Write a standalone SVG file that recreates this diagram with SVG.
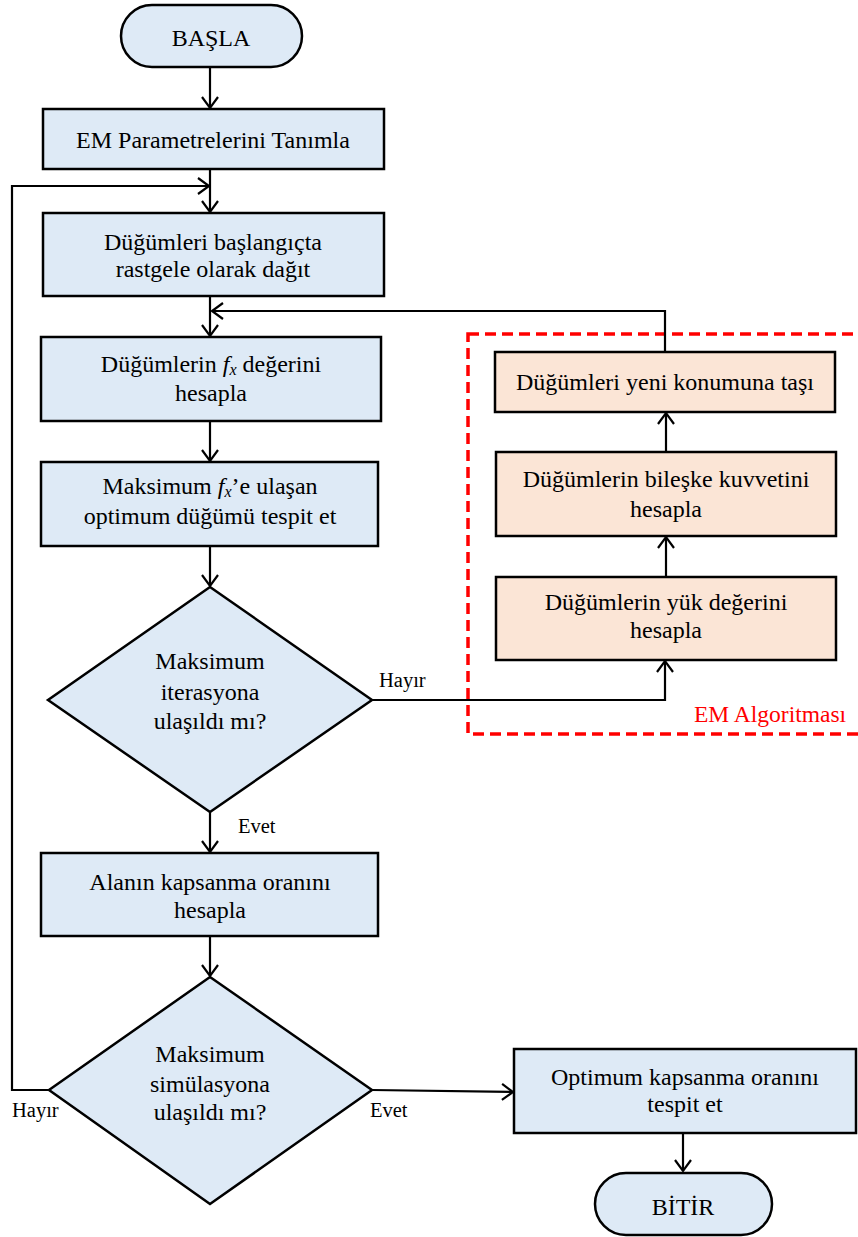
<svg xmlns="http://www.w3.org/2000/svg" width="858" height="1237" viewBox="0 0 858 1237">
<style>
.b{fill:#DEEAF6;stroke:#000;stroke-width:2.5}
.o{fill:#FBE5D6;stroke:#000;stroke-width:2.5}
.t{font-family:"Liberation Serif","Times New Roman",serif;font-size:24px;fill:#000;text-anchor:middle}
.l{font-family:"Liberation Serif","Times New Roman",serif;font-size:20.5px;fill:#000}
.c{fill:none;stroke:#000;stroke-width:2.2}
.i{font-style:italic}
</style>
<defs>
<marker id="a" viewBox="-13 -10 15 20" refX="0" refY="0" markerWidth="15" markerHeight="20" orient="auto" markerUnits="userSpaceOnUse">
<path d="M-11,-8 L0,0 L-11,8" fill="none" stroke="#000" stroke-width="2.2"/>
</marker>
</defs>
<rect x="468" y="334" width="420" height="400" fill="none" stroke="#FF0000" stroke-width="3.5" stroke-dasharray="11 6"/>
<text x="694" y="722" font-family="'Liberation Serif','Times New Roman',serif" font-size="23.5" fill="#FF0000">EM Algoritması</text>
<g id="connectors">
<path class="c" d="M210,68 V108" marker-end="url(#a)"/>
<path class="c" d="M210,169 V212" marker-end="url(#a)"/>
<path class="c" d="M49,1090 H12 V186 H209" marker-end="url(#a)"/>
<path class="c" d="M210,296 V336" marker-end="url(#a)"/>
<path class="c" d="M665,352 V311 H212" marker-end="url(#a)"/>
<path class="c" d="M210,421 V461" marker-end="url(#a)"/>
<path class="c" d="M210,546 V586" marker-end="url(#a)"/>
<path class="c" d="M210,812 V852" marker-end="url(#a)"/>
<path class="c" d="M372,700 H665 V661" marker-end="url(#a)"/>
<path class="c" d="M666,577 V537" marker-end="url(#a)"/>
<path class="c" d="M666,452 V413" marker-end="url(#a)"/>
<path class="c" d="M210,936 V976" marker-end="url(#a)"/>
<path class="c" d="M372,1090 L513,1092" marker-end="url(#a)"/>
<path class="c" d="M683,1133 V1171" marker-end="url(#a)"/>
</g>
<g id="basla">
<rect class="b" x="121" y="5" width="181" height="62" rx="31" ry="31"/>
<text class="t" x="211" y="46">BAŞLA</text>
</g>
<g id="em-param">
<rect class="b" x="43" y="109" width="341" height="60"/>
<text class="t" x="213" y="148">EM Parametrelerini Tanımla</text>
</g>
<g id="dagit">
<rect class="b" x="43" y="213" width="341" height="83"/>
<text class="t" x="213" y="250">Düğümleri başlangıçta</text>
<text class="t" x="213" y="277">rastgele olarak dağıt</text>
</g>
<g id="fx">
<rect class="b" x="41" y="337" width="340" height="84"/>
<text class="t" x="211" y="372">Düğümlerin <tspan class="i">f</tspan><tspan class="i" font-size="16" dy="3">x</tspan><tspan dy="-3"> değerini</tspan></text>
<text class="t" x="211" y="401">hesapla</text>
</g>
<g id="optimum-dugum">
<rect class="b" x="41" y="462" width="337" height="84"/>
<text class="t" x="210" y="494">Maksimum <tspan class="i">f</tspan><tspan class="i" font-size="16" dy="3">x</tspan><tspan dy="-3">’e ulaşan</tspan></text>
<text class="t" x="210" y="524">optimum düğümü tespit et</text>
</g>
<g id="iterasyon">
<polygon class="b" points="210,587 372,700 210,812 48,700"/>
<text class="t" x="210" y="669">Maksimum</text>
<text class="t" x="210" y="700">iterasyona</text>
<text class="t" x="210" y="729">ulaşıldı mı?</text>
</g>
<text class="l" x="379" y="687">Hayır</text>
<text class="l" x="238" y="833">Evet</text>
<g id="kapsanma">
<rect class="b" x="41" y="853" width="337" height="83"/>
<text class="t" x="210" y="890">Alanın kapsanma oranını</text>
<text class="t" x="210" y="918">hesapla</text>
</g>
<g id="simulasyon">
<polygon class="b" points="210,977 372,1090 210,1204 49,1090"/>
<text class="t" x="210" y="1062">Maksimum</text>
<text class="t" x="210" y="1092">simülasyona</text>
<text class="t" x="210" y="1120">ulaşıldı mı?</text>
</g>
<text class="l" x="12" y="1117">Hayır</text>
<text class="l" x="370" y="1117">Evet</text>
<g id="optimum-kapsanma">
<rect class="b" x="514" y="1049" width="342" height="84"/>
<text class="t" x="685" y="1085">Optimum kapsanma oranını</text>
<text class="t" x="685" y="1112">tespit et</text>
</g>
<g id="bitir">
<rect class="b" x="595" y="1173" width="177" height="62" rx="31" ry="31"/>
<text class="t" x="683" y="1215">BİTİR</text>
</g>
<g id="tasi">
<rect class="o" x="495" y="352" width="340" height="60"/>
<text class="t" x="665" y="390">Düğümleri yeni konumuna taşı</text>
</g>
<g id="kuvvet">
<rect class="o" x="496" y="452" width="340" height="84"/>
<text class="t" x="666" y="487">Düğümlerin bileşke kuvvetini</text>
<text class="t" x="666" y="517">hesapla</text>
</g>
<g id="yuk">
<rect class="o" x="496" y="577" width="340" height="83"/>
<text class="t" x="666" y="610">Düğümlerin yük değerini</text>
<text class="t" x="666" y="638">hesapla</text>
</g>
</svg>
